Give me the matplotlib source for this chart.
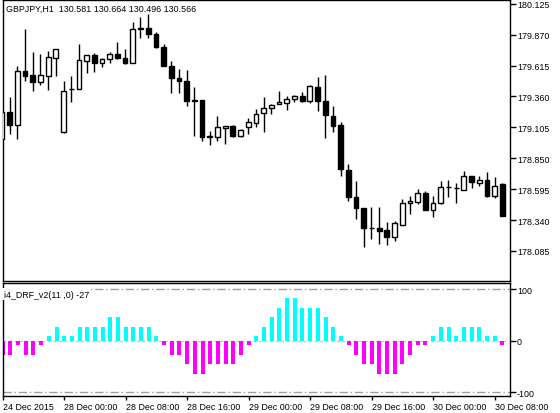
import matplotlib
matplotlib.use('Agg')
import matplotlib.pyplot as plt
import numpy as np

plt.rcParams['font.family'] = ['Liberation Sans', 'DejaVu Sans']

# GBPJPY H1 candles
opens = [179.009, 179.229, 179.124, 179.572, 179.537, 179.481, 179.531, 179.675, 179.064, 179.418,
         179.421, 179.655, 179.702, 179.636, 179.669, 179.710, 179.675, 179.636, 179.916, 179.922,
         179.875, 179.765, 179.613, 179.509, 179.487, 179.325, 179.330, 179.023, 179.028, 179.097,
         179.118, 179.031, 179.105, 179.141, 179.223, 179.264, 179.297, 179.306, 179.339, 179.361,
         179.325, 179.440, 179.325, 179.201, 179.124, 178.755, 178.528, 178.437, 178.272, 178.275,
         178.258, 178.198, 178.299, 178.478, 178.491, 178.561, 178.425, 178.481, 178.612, 178.604,
         178.590, 178.701, 178.646, 178.670, 178.536, 178.637]
highs = [179.250, 179.353, 179.613, 179.916, 179.724, 179.710, 179.737, 179.755, 179.490, 179.531,
         179.792, 179.706, 179.716, 179.675, 179.724, 179.807, 179.751, 179.976, 180.013, 180.040,
         179.889, 179.792, 179.655, 179.586, 179.580, 179.435, 179.333, 179.077, 179.201, 179.118,
         179.124, 179.090, 179.182, 179.256, 179.355, 179.297, 179.405, 179.366, 179.372, 179.396,
         179.454, 179.520, 179.537, 179.281, 179.149, 178.802, 178.662, 178.440, 178.450, 178.448,
         178.326, 178.335, 178.514, 178.541, 178.596, 178.582, 178.536, 178.665, 178.673, 178.646,
         178.747, 178.706, 178.701, 178.739, 178.698, 178.643]
lows = [178.990, 179.050, 179.009, 179.490, 179.407, 179.454, 179.415, 179.531, 179.060, 179.316,
        179.418, 179.553, 179.559, 179.600, 179.636, 179.672, 179.627, 179.632, 179.840, 179.840,
        179.762, 179.610, 179.386, 179.386, 179.278, 179.036, 178.995, 178.962, 178.995, 178.967,
        179.028, 179.028, 179.050, 179.108, 179.066, 179.215, 179.294, 179.250, 179.314, 179.314,
        179.306, 179.242, 179.017, 179.069, 178.703, 178.500, 178.349, 178.118, 178.184, 178.142,
        178.134, 178.170, 178.296, 178.390, 178.472, 178.422, 178.363, 178.472, 178.528, 178.481,
        178.587, 178.602, 178.623, 178.533, 178.519, 178.373]
closes = [179.229, 179.124, 179.572, 179.526, 179.476, 179.537, 179.688, 179.751, 179.407, 179.424,
          179.660, 179.702, 179.636, 179.669, 179.710, 179.675, 179.636, 179.916, 179.922, 179.875,
          179.765, 179.613, 179.509, 179.487, 179.325, 179.330, 179.023, 179.036, 179.105, 179.113,
          179.031, 179.085, 179.146, 179.215, 179.264, 179.289, 179.316, 179.339, 179.361, 179.325,
          179.443, 179.325, 179.207, 179.118, 178.761, 178.528, 178.437, 178.272, 178.275, 178.247,
          178.198, 178.316, 178.481, 178.495, 178.561, 178.425, 178.481, 178.615, 178.609, 178.607,
          178.701, 178.651, 178.670, 178.536, 178.623, 178.376]

# i4_DRF_v2 histogram
drf = [-27, -27, -9, -27, -27, -9, 9, 27, 9, 9,
       27, 27, 27, 27, 45, 45, 27, 27, 27, 27,
       9, -9, -27, -27, -45, -64, -64, -45, -45, -45,
       -45, -27, -9, 9, 27, 45, 64, 82, 82, 64,
       64, 64, 45, 27, 9, -9, -27, -45, -45, -64,
       -64, -64, -45, -27, -9, -9, 9, 27, 27, 9,
       27, 27, 27, 9, 9, -9]

price_ticks = [180.125, 179.870, 179.615, 179.360, 179.105, 178.850, 178.595, 178.340, 178.085]
time_pos = [0, 8, 16, 24, 32, 40, 48, 56, 64]
time_labels = ['24 Dec 2015', '28 Dec 00:00', '28 Dec 08:00', '28 Dec 16:00', '29 Dec 00:00',
               '29 Dec 08:00', '29 Dec 16:00', '30 Dec 00:00', '30 Dec 08:00']
levels = [100, 0, -100]

fig = plt.figure(figsize=(5.6, 4.14), dpi=100)
W, H = 560.0, 414.0
ax1 = fig.add_axes([2.7 / W, 1 - 282 / H, 507.3 / W, 281 / H])
ax2 = fig.add_axes([2.7 / W, 1 - 397 / H, 507.3 / W, 113 / H])

x = np.arange(len(opens))
o = np.array(opens)
c = np.array(closes)
up = c >= o

# candles
ax1.vlines(x, lows, highs, color='black', linewidth=1)
ax1.bar(x[up], (c - o)[up], bottom=o[up], width=0.62, color='white',
        edgecolor='black', linewidth=1, zorder=3)
ax1.bar(x[~up], (o - c)[~up], bottom=c[~up], width=0.62, color='black',
        edgecolor='black', linewidth=1, zorder=3)

ax1.set_xlim(0.1, 66.0)
ax1.set_ylim(177.837, 180.156)
ax1.set_xticks([])
ax1.yaxis.tick_right()
ax1.set_yticks(price_ticks)
ax1.set_yticklabels(['%.3f' % p for p in price_ticks])
ax1.tick_params(axis='y', direction='out', length=4, width=1, pad=1, labelsize=6.4)
for s in ax1.spines.values():
    s.set_linewidth(1)
ax1.text(3.5 / 507.3, 0.971, 'GBPJPY,H1  130.581 130.664 130.496 130.566',
         transform=ax1.transAxes, fontsize=6.4, va='center', ha='left')

# indicator
d = np.array(drf)
cols = ['#00FFFF' if v > 0 else '#FF00FF' for v in d]
ax2.bar(x, d, width=0.52, color=cols, zorder=2)
ax2.axhline(100, color='#A0A0A0', linewidth=1, linestyle='-.', dashes=(6, 2, 1, 2), zorder=1)
ax2.axhline(-100, color='#A0A0A0', linewidth=1, linestyle='-.', dashes=(6, 2, 1, 2), zorder=1)
ax2.axhline(0, color='#C8C8C8', linewidth=1, linestyle=(0, (2, 2)), zorder=1)
ax2.set_xlim(0.1, 66.0)
ax2.set_ylim(-107.2, 111.7)
ax2.yaxis.tick_right()
ax2.set_yticks(levels)
ax2.set_yticklabels([str(v) for v in levels])
ax2.tick_params(axis='y', direction='out', length=4, width=1, pad=1, labelsize=6.4)
ax2.set_xticks(time_pos)
ax2.set_xticklabels(time_labels, ha='left')
ax2.tick_params(axis='x', direction='out', length=3, width=1, pad=1, labelsize=6.4)
for s in ax2.spines.values():
    s.set_linewidth(1)
ax2.text(1 / 507.3, 0.9, 'i4_DRF_v2(11 ,0) -27', transform=ax2.transAxes, fontsize=6.4,
         va='center', ha='left', zorder=5,
         bbox=dict(facecolor='white', edgecolor='none', pad=1))

fig.savefig('out.png', dpi=100)
